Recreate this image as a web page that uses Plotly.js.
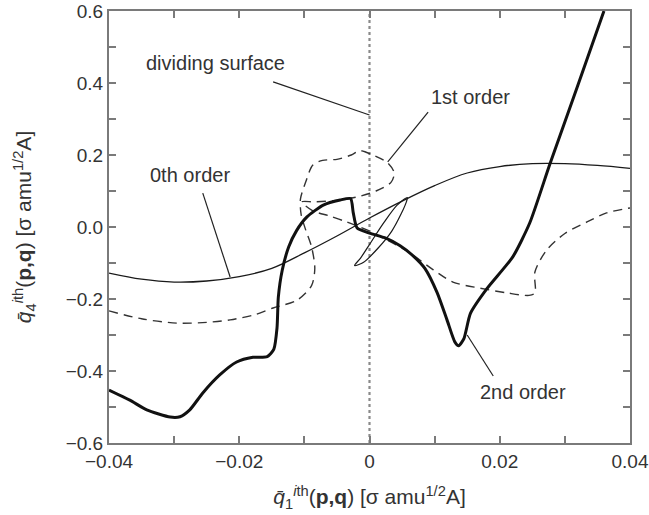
<!DOCTYPE html>
<html>
<head>
<meta charset="utf-8">
<script src="https://cdn.plot.ly/plotly-3.0.1.min.js"></script>
<style>html,body{margin:0;padding:0;background:#fff;}#chart{width:649px;height:515px;}</style>
</head>
<body>
<div id="chart"></div>
<script>
// 0th order (thin solid)
const order0X = [-0.04,-0.035,-0.03,-0.025,-0.02,-0.015,-0.01,-0.005,0,0.005,0.01,0.015,0.02,0.025,0.03,0.035,0.04];
const order0Y = [-0.128,-0.145,-0.153,-0.150,-0.138,-0.115,-0.072,-0.025,0.025,0.072,0.115,0.150,0.168,0.176,0.176,0.171,0.163];

// thin narrow loop near the dividing surface
const loopX = [0.0058,0.0042,0.0022,0.0002,-0.0014,-0.0023,-0.0009,0.0014,0.0034,0.0049,0.0057,0.0058];
const loopY = [0.082,0.060,0.012,-0.043,-0.087,-0.107,-0.098,-0.057,-0.012,0.038,0.072,0.082];

// 1st order (dashed)
const order1X = [-0.04,-0.035,-0.0296,-0.025,-0.0214,-0.0175,-0.0148,-0.0111,-0.0089,-0.0084,-0.0089,-0.0098,-0.0105,-0.0106,-0.0098,-0.0087,-0.0072,-0.005,-0.0028,-0.0015,0.0005,0.0028,0.0038,0.0033,0.001,-0.002,-0.0055,-0.0085,-0.0104,-0.0087,-0.006,-0.0035,-0.0004,0.0027,0.0062,0.0098,0.0128,0.017,0.0211,0.0245,0.0254,0.0254,0.0272,0.030,0.0334,0.0364,0.04];
const order1Y = [-0.233,-0.255,-0.267,-0.265,-0.258,-0.243,-0.225,-0.203,-0.163,-0.115,-0.055,-0.008,0.035,0.078,0.125,0.172,0.185,0.188,0.200,0.212,0.200,0.178,0.150,0.124,0.100,0.083,0.073,0.070,0.070,0.045,0.030,0.014,-0.008,-0.036,-0.072,-0.119,-0.153,-0.170,-0.183,-0.190,-0.183,-0.125,-0.064,-0.018,0.014,0.039,0.053];

// 2nd order (thick solid)
const order2X = [-0.04,-0.0368,-0.0342,-0.0306,-0.0291,-0.0276,-0.0256,-0.023,-0.0204,-0.0179,-0.0157,-0.0147,-0.0142,-0.014,-0.0134,-0.0124,-0.0112,-0.0096,-0.0071,-0.0045,-0.0029,-0.0025,-0.0019,0,0.0025,0.0047,0.0067,0.0085,0.0104,0.0119,0.0131,0.0137,0.0145,0.0155,0.018,0.022,0.0246,0.0277,0.0319,0.036];
const order2Y = [-0.453,-0.481,-0.508,-0.528,-0.527,-0.508,-0.461,-0.411,-0.375,-0.362,-0.360,-0.340,-0.280,-0.195,-0.120,-0.055,-0.010,0.028,0.061,0.075,0.079,0.040,-0.003,-0.017,-0.031,-0.052,-0.080,-0.115,-0.183,-0.258,-0.319,-0.330,-0.310,-0.240,-0.172,-0.083,0.011,0.175,0.389,0.600];

// dividing surface
const dividerX = [0, 0];
const dividerY = [-0.6, 0.6];

// ticks
const xTickVals = [-0.04,-0.02,0,0.02,0.04];
const xTickText = ['\u22120.04','\u22120.02','0','0.02','0.04'];
const xMinorVals = [-0.03,-0.01,0.01,0.03];
const yTickVals = [-0.6,-0.4,-0.2,0,0.2,0.4,0.6];
const yTickText = ['\u22120.6','\u22120.4','\u22120.2','0.0','0.2','0.4','0.6'];
const yMinorVals = [-0.5,-0.3,-0.1,0.1,0.3,0.5];

const FONT = 'Liberation Sans, Arial, sans-serif';

const traces = [
  {x: dividerX, y: dividerY, mode: 'lines', line: {color: '#8a8a8a', width: 2.2, dash: 'dot'}, hoverinfo: 'skip'},
  {x: order0X, y: order0Y, mode: 'lines', line: {color: '#1a1a1a', width: 1.3, shape: 'spline', smoothing: 1}},
  {x: loopX, y: loopY, mode: 'lines', line: {color: '#1a1a1a', width: 1.2, shape: 'spline', smoothing: 0.8}},
  {x: order1X, y: order1Y, mode: 'lines', line: {color: '#333', width: 1.4, dash: '9px,6px', shape: 'spline', smoothing: 0.8}},
  {x: order2X, y: order2Y, mode: 'lines', line: {color: '#111', width: 3, shape: 'spline', smoothing: 0.6}}
];

const axisCommon = {
  showgrid: false, zeroline: false, showline: true, linecolor: '#7a7a7a', linewidth: 2,
  ticks: 'inside', ticklen: 7, tickwidth: 2, tickcolor: '#7a7a7a', mirror: 'ticks',
  tickmode: 'array', tickfont: {family: FONT, size: 19, color: '#333'}
};

const layout = {
  width: 649, height: 515,
  margin: {l: 109, r: 19, t: 11, b: 72},
  paper_bgcolor: '#fff', plot_bgcolor: '#fff',
  showlegend: false,
  font: {family: FONT, color: '#333'},
  xaxis: Object.assign({}, axisCommon, {
    range: [-0.04, 0.04], tickvals: xTickVals, ticktext: xTickText,
    minor: {tickmode: 'array', tickvals: xMinorVals, ticks: 'inside', ticklen: 7, tickwidth: 2, tickcolor: '#7a7a7a', showgrid: false},
    title: {text: '<i>q\u0304</i><sub>1</sub><sup><i>i</i>th</sup>(<b>p,q</b>) [\u03c3 amu<sup>1/2</sup>A]', font: {family: FONT, size: 21, color: '#333'}, standoff: 19}
  }),
  yaxis: Object.assign({}, axisCommon, {
    range: [-0.6, 0.6], tickvals: yTickVals, ticktext: yTickText,
    minor: {tickmode: 'array', tickvals: yMinorVals, ticks: 'inside', ticklen: 7, tickwidth: 2, tickcolor: '#7a7a7a', showgrid: false},
    title: {text: '<i>q\u0304</i><sub>4</sub><sup><i>i</i>th</sup>(<b>p,q</b>) [\u03c3 amu<sup>1/2</sup>A]', font: {family: FONT, size: 21, color: '#333'}, standoff: 28}
  }),
  shapes: [
    {type: 'line', xref: 'x', yref: 'y', x0: -0.0148, y0: 0.403, x1: 0, y1: 0.311, line: {color: '#222', width: 1.2}},
    {type: 'line', xref: 'x', yref: 'y', x0: -0.0256, y0: 0.094, x1: -0.0214, y1: -0.139, line: {color: '#222', width: 1.2}},
    {type: 'line', xref: 'x', yref: 'y', x0: 0.009, y0: 0.319, x1: 0.0028, y1: 0.181, line: {color: '#222', width: 1.2}},
    {type: 'line', xref: 'x', yref: 'y', x0: 0.015, y0: -0.300, x1: 0.019, y1: -0.414, line: {color: '#222', width: 1.2}}
  ],
  annotations: [
    {text: 'dividing surface', x: -0.0237, y: 0.456, xref: 'x', yref: 'y', showarrow: false, font: {family: FONT, size: 20, color: '#333'}},
    {text: '0th order', x: -0.0276, y: 0.144, xref: 'x', yref: 'y', showarrow: false, font: {family: FONT, size: 20, color: '#333'}},
    {text: '1st order', x: 0.0155, y: 0.361, xref: 'x', yref: 'y', showarrow: false, font: {family: FONT, size: 20, color: '#333'}},
    {text: '2nd order', x: 0.0236, y: -0.458, xref: 'x', yref: 'y', showarrow: false, font: {family: FONT, size: 20, color: '#333'}}
  ]
};

Plotly.newPlot('chart', traces, layout, {displayModeBar: false, staticPlot: true});
</script>
</body>
</html>
